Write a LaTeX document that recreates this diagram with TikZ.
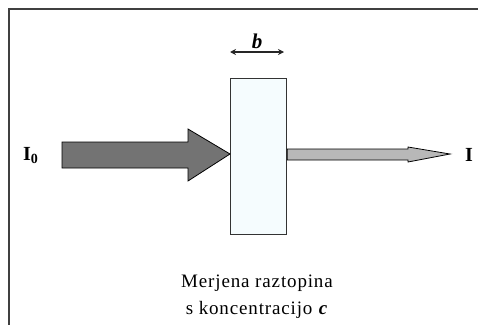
\documentclass[tikz,border=0pt]{standalone}
\usepackage{fontspec}
\setmainfont{Liberation Serif}
\usetikzlibrary{arrows.meta}
\begin{document}
\begin{tikzpicture}[x=1pt,y=1pt,
  frameline/.style={draw=black!75,line width=1.3pt},
  cuvette/.style={draw=black!80,line width=1.2pt,fill=cyan!4},
  bigarrow/.style={draw=black,line width=0.8pt,fill=black!55,line join=miter},
  smallarrow/.style={draw=black,line width=0.8pt,fill=black!28,line join=miter},
  lbl/.style={font=\fontsize{20}{22}\selectfont\bfseries,inner sep=0pt},
  capt/.style={font=\fontsize{19}{22}\selectfont\addfontfeature{LetterSpace=4.5},inner sep=0pt,anchor=base},
  dim/.style={{Stealth[length=6pt,width=6pt]}-{Stealth[length=6pt,width=6pt]},line width=1.2pt,black!85}]
\useasboundingbox (0,0) rectangle (478,-324);
% frame
\draw[frameline] (9,-330) -- (9,-9) -- (485,-9);
% cuvette
\node[cuvette,minimum width=56pt,minimum height=156pt,inner sep=0pt,anchor=north west] (box) at (230,-78) {};
% width dimension
\coordinate (bl) at (230,-52);
\coordinate (br) at (284,-52);
\draw[dim] (bl) -- (br);
\node[lbl,font=\fontsize{21}{23}\selectfont\bfseries\itshape,anchor=base] (b) at (257,-48) {b};
% incident beam
\draw[bigarrow] (62,-142) -- (188,-142) -- (188,-129) -- (box.west |- 0,-154) -- (188,-181) -- (188,-168) -- (62,-168) -- cycle;
% transmitted beam
\draw[smallarrow] (box.east |- 0,-149) -- (408,-149) -- (408,-147) -- (450,-154) -- (408,-162) -- (408,-160) -- (box.east |- 0,-160) -- cycle;
% labels
\node[lbl,anchor=base west] (I0) at (23,-160) {I\textsubscript{\fontsize{14}{14}\selectfont 0}};
\node[lbl,anchor=base west] (I) at (465,-161) {I};
\node[capt] (t1) at (257,-287) {Merjena raztopina};
\node[capt] (t2) at (257,-314) {s koncentracijo \textbf{\textit{c}}};
\end{tikzpicture}
\end{document}
